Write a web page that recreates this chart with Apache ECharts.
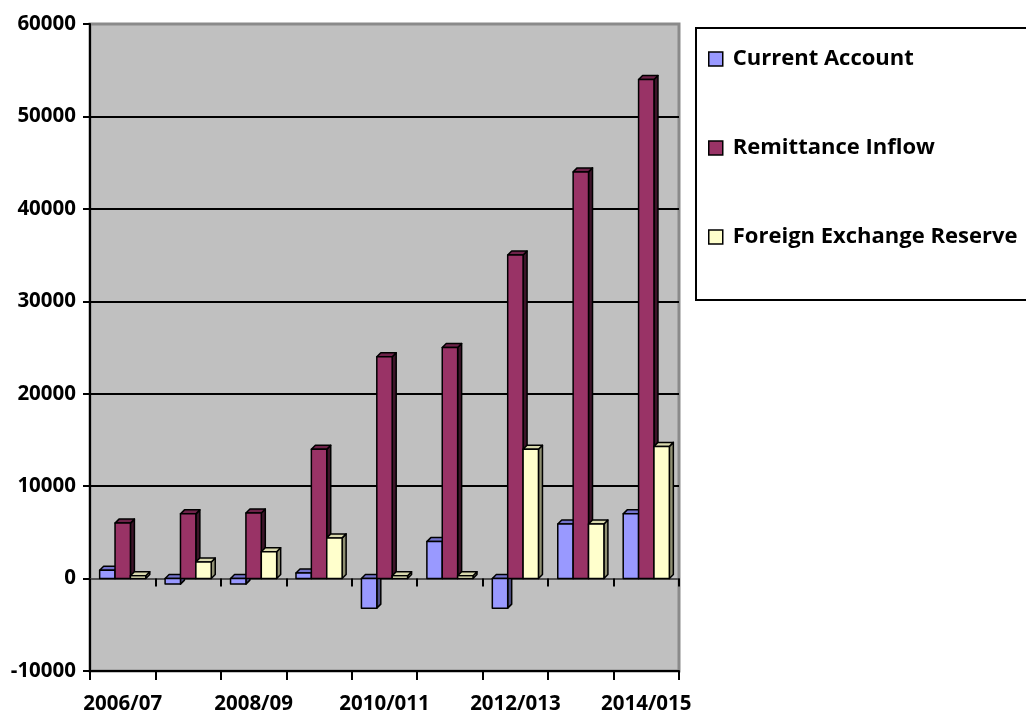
<!DOCTYPE html>
<html>
<head>
<meta charset="utf-8">
<script src="https://cdn.jsdelivr.net/npm/echarts@6/dist/echarts.min.js"></script>
<style>
html,body{margin:0;padding:0;background:#fff;}
#chart{width:1026px;height:715px;}
</style>
</head>
<body>
<div id="chart"></div>
<script>
var categories = ['2006/07','2007/08','2008/09','2009/10','2010/011','2011/012','2012/013','2013/014','2014/015'];
var currentAccount = [900, -600, -600, 600, -3200, 4000, -3200, 5900, 7000];
var remittanceInflow = [6000, 7000, 7100, 14000, 24000, 25000, 35000, 44000, 54000];
var foreignExchangeReserve = [300, 1800, 2900, 4400, 300, 300, 14000, 5900, 14300];
var seriesNames = ['Current Account', 'Remittance Inflow', 'Foreign Exchange Reserve'];
var yTicks = {min: -10000, max: 60000, interval: 10000};

var FONT = '"Open Sans"';
var colors = ['#9999FF', '#993366', '#FFFFCC'];
var topColors = ['#7373cc', '#6e2249', '#d9d9ad'];
var sideColors = ['#4d4d80', '#3d1429', '#8f8f72'];

function makeRender(si) {
  return function (params, api) {
    var cat = api.value(0), v = api.value(1);
    var p0 = api.coord([cat, 0]);
    var p1 = api.coord([cat, v]);
    var band = api.size([1, 0])[0];
    var bw = band * 0.235;
    var d = 4;
    var x = p0[0] + (si - 1.5) * bw;
    var yTop = Math.min(p0[1], p1[1]);
    var yBot = Math.max(p0[1], p1[1]);
    var st = {stroke: '#000', lineWidth: 1.5, lineJoin: 'round'};
    return {
      type: 'group',
      children: [
        {type: 'polygon', shape: {points: [[x + bw, yTop], [x + bw + d, yTop - d], [x + bw + d, yBot - d], [x + bw, yBot]]},
          style: Object.assign({fill: sideColors[si]}, st)},
        {type: 'polygon', shape: {points: [[x, yTop], [x + d, yTop - d], [x + bw + d, yTop - d], [x + bw, yTop]]},
          style: Object.assign({fill: topColors[si]}, st)},
        {type: 'rect', shape: {x: x, y: yTop, width: bw, height: yBot - yTop},
          style: Object.assign({fill: colors[si]}, st)}
      ]
    };
  };
}

var dataSets = [currentAccount, remittanceInflow, foreignExchangeReserve];
var series = dataSets.map(function (arr, si) {
  return {
    type: 'custom',
    name: seriesNames[si],
    xAxisIndex: 0,
    renderItem: makeRender(si),
    itemStyle: {color: colors[si]},
    encode: {x: 0, y: 1},
    data: arr.map(function (v, i) { return [i, v]; })
  };
});

var chart = echarts.init(document.getElementById('chart'), null, {renderer: 'canvas'});
chart.setOption({
  animation: false,
  backgroundColor: '#fff',
  textStyle: {fontFamily: FONT},
  grid: {
    left: 90, top: 24, width: 589, height: 649,
    show: true, backgroundColor: '#C0C0C0', borderColor: '#8a8a8a', borderWidth: 3
  },
  legend: {
    orient: 'vertical',
    left: 696, top: 28,
    padding: [20, 40, 52, 12],
    itemGap: 67,
    itemWidth: 14, itemHeight: 14,
    icon: 'rect',
    itemStyle: {borderColor: '#000', borderWidth: 1.5},
    borderColor: '#000', borderWidth: 2,
    textStyle: {fontFamily: FONT, fontWeight: 'bold', fontSize: 22, color: '#000', lineHeight: 20, padding: [0, 0, 0, 5]},
    data: seriesNames
  },
  xAxis: [{
    type: 'category',
    data: categories,
    position: 'bottom',
    axisLine: {onZero: false, lineStyle: {color: '#000', width: 2}},
    axisTick: {show: true, interval: 0, length: 9, lineStyle: {color: '#000', width: 2}},
    axisLabel: {interval: 1, margin: 23, fontFamily: FONT, fontWeight: 'bold', fontSize: 20.5, color: '#000'},
    splitLine: {show: false}
  }, {
    type: 'category',
    data: categories,
    position: 'bottom',
    axisLine: {onZero: true, lineStyle: {color: '#555', width: 2}},
    axisTick: {show: true, interval: 0, length: 8, lineStyle: {color: '#000', width: 2}},
    axisLabel: {show: false},
    splitLine: {show: false}
  }],
  yAxis: {
    type: 'value',
    min: yTicks.min, max: yTicks.max, interval: yTicks.interval,
    axisLine: {show: true, lineStyle: {color: '#000', width: 2}},
    axisTick: {show: true, length: 7, lineStyle: {color: '#000', width: 2}},
    axisLabel: {margin: 14, fontFamily: FONT, fontWeight: 'bold', fontSize: 20.5, color: '#000',
      formatter: function (v) { return String(v); }},
    splitLine: {show: true, lineStyle: {color: ['transparent', 'transparent', '#000', '#000', '#000', '#000', '#000', 'transparent'], width: 2}}
  },
  series: series
});
</script>
</body>
</html>
